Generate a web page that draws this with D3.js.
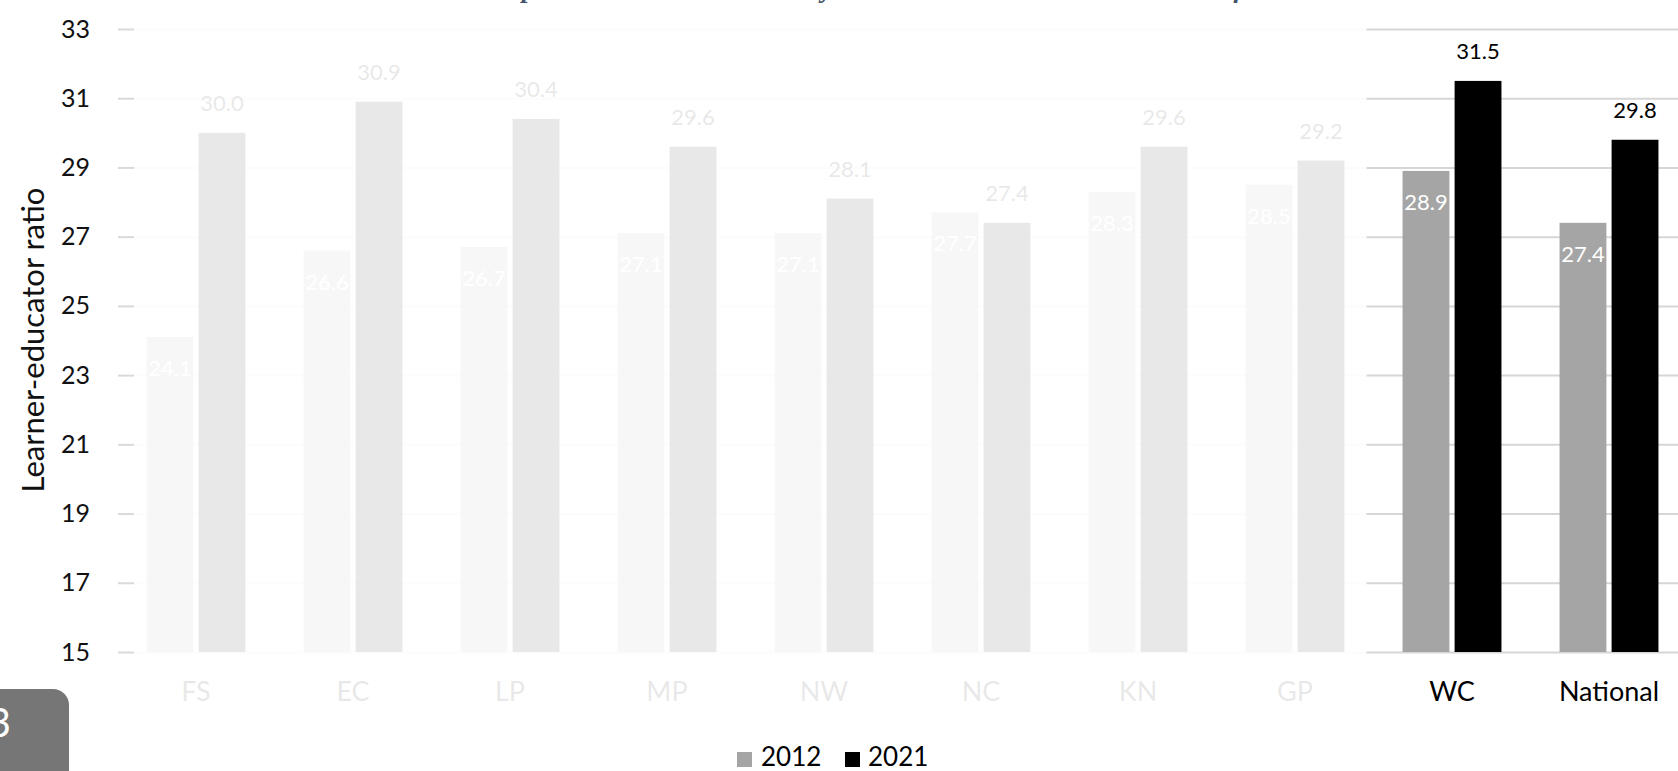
<!DOCTYPE html>
<html>
<head>
<meta charset="utf-8">
<script src="https://cdn.jsdelivr.net/npm/d3@7"></script>
<style>
  html, body { margin: 0; padding: 0; background: #ffffff; overflow: hidden; }
  svg { display: block; font-family: Lato, "Open Sans", sans-serif; }
</style>
</head>
<body>
<svg id="chart" width="1678" height="771"></svg>
<script>
// Learner-educator ratios by province, 2012 vs 2021
const categories = ["FS", "EC", "LP", "MP", "NW", "NC", "KN", "GP", "WC", "National"];
const seriesNames = ["2012", "2021"];
const values2012 = [24.1, 26.6, 26.7, 27.1, 27.1, 27.7, 28.3, 28.5, 28.9, 27.4];
const values2021 = [30.0, 30.9, 30.4, 29.6, 28.1, 27.4, 29.6, 29.2, 31.5, 29.8];
const yTicks = [15, 17, 19, 21, 23, 25, 27, 29, 31, 33];
const highlighted = ["WC", "National"];
const seriesColors = ["#A5A5A5", "#000000"];
const titleText = "Learner-educator ratios up in most areas but notably worse in the WC than in the rest of SA";
const pageNumber = "13";

const svg = d3.select("#chart");

const rows = categories.map((c, i) => ({
  category: c,
  values: [
    { series: "2012", value: values2012[i] },
    { series: "2021", value: values2021[i] }
  ]
}));

// Scales
const y = d3.scaleLinear().domain([15, 33]).range([652, 29]);
const x0 = d3.scaleBand().domain(categories).range([117.5, 1687.5])
  .paddingInner(0.37).paddingOuter(0.185);
const x1 = d3.scaleBand().domain(seriesNames).range([0, x0.bandwidth()]).paddingInner(0.1);
const color = d3.scaleOrdinal().domain(seriesNames).range(seriesColors);

const plotLeft = 134;
const plotRight = 1700;

// Title (runs off the top edge, only its descenders stay in view)
const title = svg.append("text")
  .attr("y", -3)
  .attr("font-family", "'Liberation Serif', serif")
  .attr("font-style", "italic")
  .attr("font-weight", "bold")
  .attr("font-size", 27)
  .attr("letter-spacing", 0.4)
  .attr("fill", "#44546A")
  .text(titleText);
// anchor the "p" of "up" at a fixed x
{
  const idx = titleText.indexOf("up") + 1;
  const pos = title.node().getStartPositionOfChar(idx).x;
  title.attr("x", 522 - pos);
}

// Horizontal gridlines
const grid = svg.append("g")
  .attr("transform", `translate(${plotLeft},0)`)
  .call(d3.axisLeft(y).tickValues(yTicks).tickSize(-(plotRight - plotLeft)).tickFormat(""));
grid.select(".domain").remove();
grid.selectAll("line").attr("stroke", "#D6D6D6").attr("stroke-width", 2);

// Y axis ticks and labels
const yAxis = svg.append("g")
  .attr("transform", `translate(${plotLeft},0)`)
  .call(d3.axisLeft(y).tickValues(yTicks).tickSize(16).tickPadding(28).tickFormat(d3.format("d")));
yAxis.select(".domain").remove();
yAxis.selectAll("line").attr("stroke", "#D9D9D9").attr("stroke-width", 2);
yAxis.selectAll("text")
  .attr("font-family", "Lato, sans-serif")
  .attr("font-size", 25)
  .attr("fill", "#111");

// Y axis title
svg.append("text")
  .attr("transform", "translate(32,340) rotate(-90)")
  .attr("text-anchor", "middle")
  .attr("dominant-baseline", "central")
  .attr("font-size", 31)
  .attr("fill", "#111")
  .text("Learner-educator ratio");

// Bars
const groups = svg.append("g").selectAll("g")
  .data(rows)
  .join("g")
  .attr("transform", d => `translate(${x0(d.category)},0)`);

groups.selectAll("rect")
  .data(d => d.values)
  .join("rect")
  .attr("x", d => x1(d.series))
  .attr("width", x1.bandwidth())
  .attr("y", d => y(d.value))
  .attr("height", d => y(15) - y(d.value))
  .attr("fill", d => color(d.series));

// Value labels: 2012 inside the bar top, 2021 above the bar
groups.selectAll("text.val")
  .data(d => d.values)
  .join("text")
  .attr("class", "val")
  .attr("x", d => x1(d.series) + x1.bandwidth() / 2)
  .attr("y", d => d.series === "2012" ? y(d.value) + 39 : y(d.value) - 22)
  .attr("text-anchor", "middle")
  .attr("font-size", 22)
  .attr("fill", d => d.series === "2012" ? "#ffffff" : "#000000")
  .text(d => d3.format(".1f")(d.value));

// Category axis
const xAxis = svg.append("g")
  .attr("transform", `translate(0,${y(15)})`)
  .call(d3.axisBottom(x0).tickSize(0).tickPadding(30));
xAxis.select(".domain").remove();
xAxis.selectAll("text")
  .attr("font-family", "Lato, sans-serif")
  .attr("font-size", 27)
  .attr("fill", "#000");

// White veil over the provinces that are not in focus
const firstHi = x0(highlighted[0]);
svg.append("rect")
  .attr("x", plotLeft)
  .attr("y", 12)
  .attr("width", firstHi - (x0.step() - x0.bandwidth()) / 2 - plotLeft - 7)
  .attr("height", 713)
  .attr("fill", "#ffffff")
  .attr("fill-opacity", 0.91);

// Legend
const legend = svg.append("g");
const legendItems = [{ name: "2012", x: 737, tx: 761 }, { name: "2021", x: 845, tx: 868 }];
legendItems.forEach(it => {
  legend.append("rect")
    .attr("x", it.x).attr("y", 752).attr("width", 15).attr("height", 15)
    .attr("fill", color(it.name));
  legend.append("text")
    .attr("x", it.tx).attr("y", 766)
    .attr("font-size", 26)
    .attr("fill", "#000")
    .text(it.name);
});

// Slide number tab
svg.append("rect")
  .attr("x", -30).attr("y", 689).attr("width", 99).attr("height", 120)
  .attr("rx", 16).attr("fill", "#767676");
svg.append("text")
  .attr("x", 11).attr("y", 737)
  .attr("text-anchor", "end")
  .attr("font-size", 40)
  .attr("fill", "#ffffff")
  .text(pageNumber);
</script>
</body>
</html>
